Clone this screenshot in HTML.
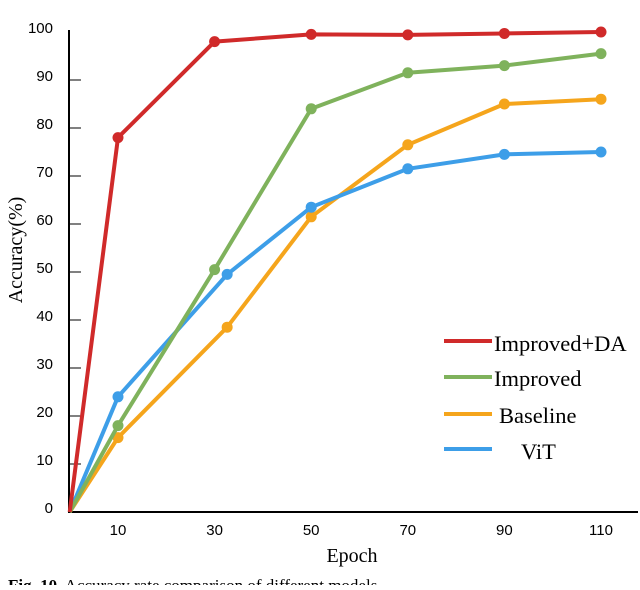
<!DOCTYPE html>
<html><head><meta charset="utf-8"><style>
body{margin:0;background:#fff;width:640px;height:585px;overflow:hidden}
svg text{font-family:"Liberation Sans",sans-serif}
.serif{font-family:"Liberation Serif",serif}
</style></head><body>
<svg width="640" height="585" id="chart">
<text x="8" y="591" class="serif" font-size="17"><tspan font-weight="bold">Fig. 10.</tspan> Accuracy rate comparison of different models</text>
</svg>
<script>
const epochs=[0,10,30,50,70,90,110];
const epochsShift=[0,10,32.6,50,70,90,110];
const improvedDA=[0,78,98,99.5,99.4,99.7,100];
const improved=[0,18,50.5,84,91.5,93,95.5];
const baseline=[0,15.5,38.5,61.5,76.5,85,86];
const vit=[0,24,49.5,63.5,71.5,74.5,75];
const xTicks=[10,30,50,70,90,110];
const yTicks=[0,10,20,30,40,50,60,70,80,90,100];
const ns="http://www.w3.org/2000/svg";
const svg=document.getElementById('chart');
const X=e=>69.7+e*4.83, Y=v=>512-4.8*v;
function mk(t,a){const e=document.createElementNS(ns,t);for(const k in a)e.setAttribute(k,a[k]);svg.appendChild(e);return e;}
let ax=mk('line',{x1:69,y1:30,x2:69,y2:513,stroke:'#000','stroke-width':2});


ax=mk('line',{x1:68,y1:512,x2:638,y2:512,stroke:'#000','stroke-width':2});


yTicks.forEach(v=>{
 const t=mk('text',{x:53,y:Y(v)+1,'font-size':15,'text-anchor':'end'});
 t.textContent=v;
 
 
 if(v>0&&v<100){const tk=mk('line',{x1:69,y1:Y(v),x2:81,y2:Y(v),stroke:'#000','stroke-width':1});
 
 }
});
xTicks.forEach(v=>{const t=mk('text',{x:X(v),y:535,'font-size':15,'text-anchor':'middle'});t.textContent=v;

});
let t=mk('text',{x:352,y:562,'font-size':20,'text-anchor':'middle',class:'serif'});t.textContent='Epoch';


t=mk('text',{x:0,y:0,'font-size':20,'text-anchor':'middle',class:'serif',transform:'translate(22,250) rotate(-90)'});t.textContent='Accuracy(%)';


const series=[[baseline,'#f5a51c',epochsShift,'baseline'],[vit,'#3d9ee8',epochsShift,'vit'],[improved,'#7fb25c',epochs,'improved'],[improvedDA,'#d02a2a',epochs,'improved-da']];
series.forEach(([d,c,xs,n])=>{
 const p=mk('polyline',{points:d.map((v,i)=>X(xs[i])+','+Y(v)).join(' '),fill:'none',stroke:c,'stroke-width':4,'stroke-linejoin':'round'});
 
 
 d.forEach((v,i)=>{if(i==0)return;const m=mk('circle',{cx:X(xs[i]),cy:Y(v),r:5.5,fill:c});
 
 });
});
const leg=[['Improved+DA','#d02a2a',341,494,351],['Improved','#7fb25c',377,494,386],['Baseline','#f5a51c',414,499,423],['ViT','#3d9ee8',449,521,459]];
leg.forEach(([l,c,y,tx,ty])=>{
 const ln=mk('line',{x1:444,y1:y,x2:492,y2:y,stroke:c,'stroke-width':4});
 
 
 const tt=mk('text',{x:tx,y:ty,'font-size':22.5,class:'serif'});tt.textContent=l;
 
 
});
</script>
</body></html>
